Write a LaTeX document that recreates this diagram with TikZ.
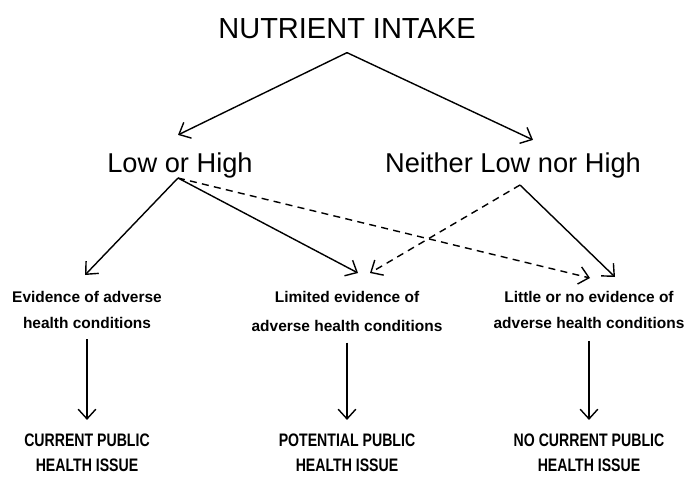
\documentclass[tikz,border=0pt]{standalone}
\usepackage{fontspec}
\setmainfont{Liberation Sans}
\newfontfamily\narrowsans{Liberation Sans}[FakeStretch=0.78]
\usetikzlibrary{arrows.meta,calc}

\begin{document}
\begin{tikzpicture}[x=0.02cm,y=-0.02cm,
    tip/.style={-{Straight Barb[length=5.5pt,width=10pt]},line width=.8pt},
    dashtip/.style={tip,dash pattern=on 4pt off 3pt},
    level/.style={inner sep=0pt,anchor=base,font=\fontsize{15.5}{18}\selectfont},
    finding/.style={inner sep=0pt,anchor=north,align=center,font=\fontsize{8.8}{14.5}\selectfont\bfseries},
    issue/.style={inner sep=0pt,anchor=north,align=center,font=\narrowsans\fontsize{10.3}{14}\selectfont\bfseries}]
        \useasboundingbox (0,0) rectangle (687,477);

        % Top and second level
        \node[inner sep=0pt,anchor=base,font=\fontsize{16.5}{20}\selectfont] (intake) at (347,38) {NUTRIENT INTAKE};
        \node[level] (lowhigh) at (180,172) {Low or High};
        \node[level] (neither) at (513,172) {Neither Low nor High};

        % Evidence row
        \node[finding] (evid) at (87,291) {Evidence of adverse\\health conditions};
        \node[finding,font=\fontsize{8.8}{16.5}\selectfont\bfseries] (limited) at (347,291) {Limited evidence of\\adverse health conditions};
        \node[finding] (little) at (589,291) {Little or no evidence of\\adverse health conditions};

        % Public health issue row
        \node[issue] (current) at (87,434) {CURRENT PUBLIC\\HEALTH ISSUE};
        \node[issue] (potential) at (347,434) {POTENTIAL PUBLIC\\HEALTH ISSUE};
        \node[issue] (nocurrent) at (589,434) {NO CURRENT PUBLIC\\HEALTH ISSUE};

        % Connectors
        \draw[tip] ($(intake.south)+(0,14)$) -- ($(lowhigh.north)+(-2,-17)$);
        \draw[tip] ($(intake.south)+(0,14)$) -- ($(neither.north)+(20,-12)$);

        \draw[tip] ($(lowhigh.south)+(-2,0)$) -- ($(evid.north)+(-2,-16)$);
        \draw[tip] ($(lowhigh.south)+(-2,0)$) -- ($(limited.north)+(11,-18)$);
        \draw[dashtip] ($(lowhigh.south)+(-2,0)$) -- ($(little.north)+(1,-13)$);

        \draw[dashtip] ($(neither.south)+(7,7)$) -- ($(limited.north)+(23,-18)$);
        \draw[tip] ($(neither.south)+(7,7)$) -- ($(little.north)+(26,-14)$);

        \draw[tip,shorten <=6pt,shorten >=8pt] (evid) -- (current);
        \draw[tip,shorten <=6pt,shorten >=8pt] (limited) -- (potential);
        \draw[tip,shorten <=7pt,shorten >=8pt] (little) -- (nocurrent);
    \end{tikzpicture}
\end{document}
